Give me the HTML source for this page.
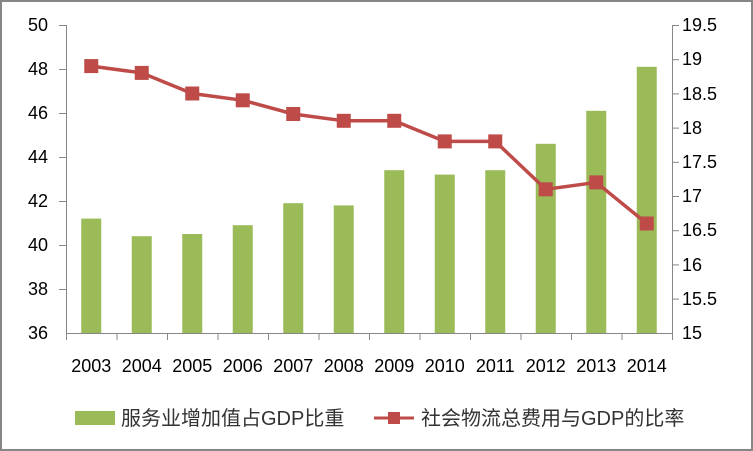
<!DOCTYPE html>
<html><head><meta charset="utf-8"><style>body{margin:0}svg{display:block}</style></head><body>
<svg width="753" height="451" xmlns="http://www.w3.org/2000/svg" font-family="Liberation Sans, Noto Sans CJK SC, sans-serif">
<rect x="1" y="1" width="751" height="449" fill="#fff" stroke="#868686" stroke-width="2"/>
<g stroke="#868686" stroke-width="1">
<line x1="66.5" y1="25" x2="66.5" y2="333"/>
<line x1="672.5" y1="25" x2="672.5" y2="333"/>
<line x1="66" y1="333.5" x2="673" y2="333.5"/>
<line x1="59" y1="25.5" x2="66" y2="25.5"/><line x1="59" y1="69.5" x2="66" y2="69.5"/><line x1="59" y1="113.5" x2="66" y2="113.5"/><line x1="59" y1="157.5" x2="66" y2="157.5"/><line x1="59" y1="201.5" x2="66" y2="201.5"/><line x1="59" y1="245.5" x2="66" y2="245.5"/><line x1="59" y1="289.5" x2="66" y2="289.5"/>
<line x1="672" y1="25.5" x2="679" y2="25.5"/><line x1="672" y1="59.7" x2="679" y2="59.7"/><line x1="672" y1="93.9" x2="679" y2="93.9"/><line x1="672" y1="128.1" x2="679" y2="128.1"/><line x1="672" y1="162.3" x2="679" y2="162.3"/><line x1="672" y1="196.5" x2="679" y2="196.5"/><line x1="672" y1="230.7" x2="679" y2="230.7"/><line x1="672" y1="264.9" x2="679" y2="264.9"/><line x1="672" y1="299.1" x2="679" y2="299.1"/>
<line x1="66.5" y1="333" x2="66.5" y2="340"/><line x1="117" y1="333" x2="117" y2="340"/><line x1="167.5" y1="333" x2="167.5" y2="340"/><line x1="218" y1="333" x2="218" y2="340"/><line x1="268.5" y1="333" x2="268.5" y2="340"/><line x1="319" y1="333" x2="319" y2="340"/><line x1="369.5" y1="333" x2="369.5" y2="340"/><line x1="420" y1="333" x2="420" y2="340"/><line x1="470.5" y1="333" x2="470.5" y2="340"/><line x1="521" y1="333" x2="521" y2="340"/><line x1="571.5" y1="333" x2="571.5" y2="340"/><line x1="622" y1="333" x2="622" y2="340"/><line x1="672.5" y1="333" x2="672.5" y2="340"/>
</g>
<g fill="#9bbb59">
<rect x="81.25" y="218.6" width="20" height="114.4"/>
<rect x="131.75" y="236.2" width="20" height="96.8"/>
<rect x="182.25" y="234" width="20" height="99"/>
<rect x="232.75" y="225.2" width="20" height="107.8"/>
<rect x="283.25" y="203.2" width="20" height="129.8"/>
<rect x="333.75" y="205.4" width="20" height="127.6"/>
<rect x="384.25" y="170.2" width="20" height="162.8"/>
<rect x="434.75" y="174.6" width="20" height="158.4"/>
<rect x="485.25" y="170.2" width="20" height="162.8"/>
<rect x="535.75" y="143.8" width="20" height="189.2"/>
<rect x="586.25" y="110.8" width="20" height="222.2"/>
<rect x="636.75" y="66.8" width="20" height="266.2"/>
</g>
<polyline points="91.25,66.1 141.75,72.9 192.25,93.5 242.75,100.3 293.25,114 343.75,120.8 394.25,120.8 444.75,141.4 495.25,141.4 545.75,189.3 596.25,182.4 646.75,223.5" fill="none" stroke="#be4b48" stroke-width="3.5"/>
<g fill="#be4b48">
<rect x="84.25" y="59.1" width="14" height="14"/>
<rect x="134.75" y="65.9" width="14" height="14"/>
<rect x="185.25" y="86.5" width="14" height="14"/>
<rect x="235.75" y="93.3" width="14" height="14"/>
<rect x="286.25" y="107" width="14" height="14"/>
<rect x="336.75" y="113.8" width="14" height="14"/>
<rect x="387.25" y="113.8" width="14" height="14"/>
<rect x="437.75" y="134.4" width="14" height="14"/>
<rect x="488.25" y="134.4" width="14" height="14"/>
<rect x="538.75" y="182.3" width="14" height="14"/>
<rect x="589.25" y="175.4" width="14" height="14"/>
<rect x="639.75" y="216.5" width="14" height="14"/>
</g>
<g font-size="18" fill="#000">
<text x="48" y="31" text-anchor="end">50</text><text x="48" y="75" text-anchor="end">48</text><text x="48" y="119" text-anchor="end">46</text><text x="48" y="163" text-anchor="end">44</text><text x="48" y="207" text-anchor="end">42</text><text x="48" y="251" text-anchor="end">40</text><text x="48" y="295" text-anchor="end">38</text><text x="48" y="339" text-anchor="end">36</text>
<text x="682" y="31">19.5</text><text x="682" y="65">19</text><text x="682" y="100">18.5</text><text x="682" y="134">18</text><text x="682" y="168">17.5</text><text x="682" y="202">17</text><text x="682" y="236">16.5</text><text x="682" y="271">16</text><text x="682" y="305">15.5</text><text x="682" y="339">15</text>
</g>
<g font-size="18" text-anchor="middle">
<text x="91.25" y="372">2003</text><text x="141.75" y="372">2004</text><text x="192.25" y="372">2005</text><text x="242.75" y="372">2006</text><text x="293.25" y="372">2007</text><text x="343.75" y="372">2008</text><text x="394.25" y="372">2009</text><text x="444.75" y="372">2010</text><text x="495.25" y="372">2011</text><text x="545.75" y="372">2012</text><text x="596.25" y="372">2013</text><text x="646.75" y="372">2014</text>
</g>
<rect x="75" y="411" width="40" height="14" fill="#9bbb59"/>
<text x="121" y="425" font-size="20" fill="#333">服务业增加值占GDP比重</text>
<line x1="374" y1="418" x2="414" y2="418" stroke="#be4b48" stroke-width="3"/>
<rect x="388" y="412" width="12" height="12" fill="#be4b48"/>
<text x="421" y="425" font-size="20" fill="#333">社会物流总费用与GDP的比率</text>
</svg>
</body></html>
